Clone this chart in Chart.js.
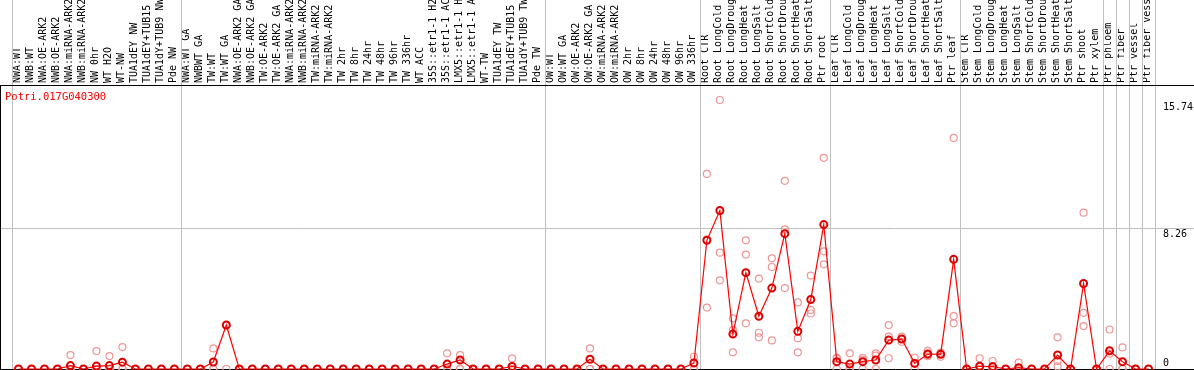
<!DOCTYPE html>
<html>
<head>
<meta charset="utf-8">
<script src="https://cdn.jsdelivr.net/npm/chart.js@4"></script>
<style>
html, body { margin: 0; padding: 0; background: #fff; }
#wrap { width: 1194px; height: 370px; }
</style>
</head>
<body>
<div id="wrap"><canvas id="expr-chart" width="1194" height="370"></canvas></div>
<script>
const geneId = 'Potri.017G040300';

const samples = [
  'NWA:WT', 'NWB:WT', 'NWA:OE-ARK2', 'NWB:OE-ARK2', 'NWA:miRNA-ARK2', 'NWB:miRNA-ARK2', 'NW 0hr', 'WT H2O', 'WT-NW', 'TUA1dEY NW', 'TUA1dEY+TUB15 NW', 'TUA1dY+TUB9 NW', 'Pde NW',
  'NWA:WT GA', 'NWBWT GA', 'TW:WT', 'TW:WT GA', 'NWA:OE-ARK2 GA', 'NWB:OE-ARK2 GA', 'TW:OE-ARK2', 'TW:OE-ARK2 GA', 'NWA:miRNA-ARK2', 'NWB:miRNA-ARK2', 'TW:miRNA-ARK2', 'TW:miRNA-ARK2', 'TW 2hr', 'TW 8hr', 'TW 24hr', 'TW 48hr', 'TW 96hr', 'TW 336hr', 'WT ACC', '35S::etr1-1 H2O', '35S::etr1-1 ACC', 'LMX5::etr1-1 H2O', 'LMX5::etr1-1 ACC', 'WT-TW', 'TUA1dEY TW', 'TUA1dEY+TUB15 TW', 'TUA1dY+TUB9 TW', 'Pde TW',
  'OW:WT', 'OW:WT GA', 'OW:OE-ARK2', 'OW:OE-ARK2 GA', 'OW:miRNA-ARK2', 'OW:miRNA-ARK2', 'OW 2hr', 'OW 8hr', 'OW 24hr', 'OW 48hr', 'OW 96hr', 'OW 336hr',
  'Root CTR', 'Root LongCold', 'Root LongDrought', 'Root LongHeat', 'Root LongSalt', 'Root ShortCold', 'Root ShortDrought', 'Root ShortHeat', 'Root ShortSalt', 'Ptr root',
  'Leaf CTR', 'Leaf LongCold', 'Leaf LongDrought', 'Leaf LongHeat', 'Leaf LongSalt', 'Leaf ShortCold', 'Leaf ShortDrought', 'Leaf ShortHeat', 'Leaf ShortSalt', 'Ptr leaf',
  'Stem CTR', 'Stem LongCold', 'Stem LongDrought', 'Stem LongHeat', 'Stem LongSalt', 'Stem ShortCold', 'Stem ShortDrought', 'Stem ShortHeat', 'Stem ShortSalt', 'Ptr shoot', 'Ptr xylem',
  'Ptr phloem', 'Ptr fiber', 'Ptr vessel', 'Ptr fiber vessel'
];

// mean expression per sample
const means = [
  0, 0, 0, 0, 0.2, 0, 0.17, 0.2, 0.4, 0, 0, 0, 0,
  0, 0, 0.41, 2.58, 0, 0, 0, 0, 0, 0, 0, 0, 0, 0, 0, 0, 0, 0, 0, 0, 0.29, 0.53, 0, 0, 0, 0.15, 0, 0,
  0, 0, 0, 0.57, 0, 0, 0, 0, 0, 0, 0, 0.35,
  7.56, 9.31, 2.05, 5.66, 3.10, 4.75, 7.95, 2.21, 4.08, 8.48,
  0.43, 0.29, 0.43, 0.53, 1.70, 1.76, 0.33, 0.88, 0.86, 6.44,
  0, 0.16, 0.14, 0, 0.08, 0, 0, 0.82, 0, 5.02, 0,
  1.07, 0.43, 0, 0
];

// replicates
const rep1 = [
  0, 0, 0, 0, 0.82, 0, 1.05, 0.76, 1.29, 0, 0, 0, 0,
  0, 0, 1.21, 2.6, 0, 0, 0, 0, 0, 0, 0, 0, 0, 0, 0, 0, 0, 0, 0, 0, 0.92, 0.82, 0, 0, 0, 0.62, 0, 0,
  0, 0, 0, 1.21, 0, 0, 0, 0, 0, 0, 0, 0.72,
  11.46, 15.8, 2.97, 7.56, 5.31, 6.5, 11.05, 3.91, 5.49, 12.4,
  0.66, 0.92, 0.66, 0.92, 2.58, 1.9, 0.66, 1.07, 0.96, 13.57,
  0, 0.63, 0.47, 0, 0.37, 0, 0, 1.86, 0, 9.18, 0,
  2.32, 1.27, 0, 0
];
const rep2 = [
  0, 0, 0, 0, 0, 0, 0, 0, 0, 0, 0, 0, 0,
  0, 0, 0, 2.56, 0, 0, 0, 0, 0, 0, 0, 0, 0, 0, 0, 0, 0, 0, 0, 0, 0, 0, 0, 0, 0, 0, 0, 0,
  0, 0, 0, 0, 0, 0, 0, 0, 0, 0, 0, 0,
  7.6, 6.83, 2.28, 6.72, 2.13, 5.99, 8.2, 1.8, 3.46, 6.91,
  0.62, 0, 0.55, 0.78, 1.9, 1.76, 0.33, 0.82, 0.9, 3.1,
  0, 0, 0, 0, 0, 0, 0, 0.47, 0, 3.3, 0,
  0.9, 0, 0, 0
];
const rep3 = [
  0, 0, 0, 0, 0, 0, 0, 0, 0, 0, 0, 0, 0,
  0, 0, 0, 0, 0, 0, 0, 0, 0, 0, 0, 0, 0, 0, 0, 0, 0, 0, 0, 0, 0, 0, 0, 0, 0, 0, 0, 0,
  0, 0, 0, 0, 0, 0, 0, 0, 0, 0, 0, 0,
  3.61, 5.21, 0.98, 2.68, 1.86, 1.68, 4.75, 0.98, 3.26, 6.15,
  0, 0, 0, 0, 0.63, 1.6, 0, 0.75, 0.72, 2.68,
  0, 0, 0, 0, 0, 0, 0, 0.15, 0, 2.52, 0,
  0, 0, 0, 0
];

const yTicks = [0, 8.26, 15.74];
const yMax = 16.68;
// sample indexes where a tissue group starts (and the last end)
const groupEdges = [0, 13, 41, 53, 63, 73, 84, 85, 86, 87, 88];

const MONO = '"DejaVu Sans Mono", monospace';

const framePlugin = {
  id: 'frame',
  beforeDatasetsDraw(chart) {
    const {ctx, chartArea, scales: {x, y}} = chart;
    const W = chart.width, H = chart.height;
    ctx.save();
    ctx.lineWidth = 1;
    ctx.strokeStyle = '#c0c0c0';
    groupEdges.forEach(b => {
      const px = Math.round(x.getPixelForValue(b - 0.5)) + 0.5;
      ctx.beginPath();
      ctx.moveTo(px, 0);
      ctx.lineTo(px, H);
      ctx.stroke();
    });
    const gy = Math.round(y.getPixelForValue(yTicks[1])) + 0.5;
    ctx.beginPath();
    ctx.moveTo(0, gy);
    ctx.lineTo(W, gy);
    ctx.stroke();

    ctx.strokeStyle = '#000';
    const top = Math.round(chartArea.top) + 0.5;
    const bot = Math.round(chartArea.bottom) + 0.5;
    ctx.beginPath();
    ctx.moveTo(0, top); ctx.lineTo(W, top);
    ctx.moveTo(0, bot); ctx.lineTo(W, bot);
    ctx.moveTo(0.5, top); ctx.lineTo(0.5, bot);
    ctx.stroke();

    ctx.fillStyle = '#ff0000';
    ctx.font = '10.5px ' + MONO;
    ctx.textBaseline = 'middle';
    ctx.fillText(geneId, 5, 97);
    ctx.restore();
  }
};

const repStyle = {
  showLine: false,
  pointRadius: 3.5,
  pointBorderWidth: 1.2,
  pointBorderColor: 'rgb(238,150,150)',
  pointBackgroundColor: 'rgba(0,0,0,0)',
  clip: false
};

new Chart(document.querySelector('#expr-chart').getContext('2d'), {
  type: 'line',
  data: {
    labels: samples,
    datasets: [
      {
        label: 'mean',
        data: means,
        borderColor: 'rgb(255,0,0)',
        borderWidth: 1.2,
        pointRadius: 3.5,
        pointBorderWidth: 2,
        pointBorderColor: 'rgb(220,0,0)',
        pointBackgroundColor: 'rgba(255,255,255,0)',
        tension: 0,
        clip: false
      },
      Object.assign({label: 'rep 1', data: rep1}, repStyle),
      Object.assign({label: 'rep 2', data: rep2}, repStyle),
      Object.assign({label: 'rep 3', data: rep3}, repStyle)
    ]
  },
  options: {
    responsive: false,
    animation: false,
    devicePixelRatio: 1,
    layout: { autoPadding: false, padding: { left: 12, top: 0, right: 0, bottom: 1 } },
    plugins: {
      legend: { display: false },
      tooltip: { enabled: false }
    },
    scales: {
      x: {
        type: 'category',
        position: 'top',
        offset: true,
        grid: { display: false, drawTicks: false },
        border: { display: false },
        ticks: {
          autoSkip: false,
          minRotation: 90,
          maxRotation: 90,
          padding: 2,
          labelOffset: 11,
          color: '#000',
          font: { family: MONO, size: 10 }
        },
        afterFit(scale) {
          scale.height = 85;
          scale.paddingLeft = 0;
          scale.paddingRight = 0;
        }
      },
      y: {
        position: 'right',
        min: 0,
        max: yMax,
        grid: { display: false, drawTicks: false },
        border: { display: false },
        afterBuildTicks(scale) {
          scale.ticks = yTicks.map(v => ({ value: v }));
        },
        ticks: {
          padding: 8,
          color: '#000',
          font: { family: MONO, size: 10 },
          callback: function(value) {
            return value === 0 ? ['0', ''] : ['', String(value)];
          }
        },
        afterFit(scale) {
          scale.width = 39;
          scale.paddingTop = 0;
          scale.paddingBottom = 0;
        }
      }
    }
  },
  plugins: [framePlugin]
});
</script>
</body>
</html>
